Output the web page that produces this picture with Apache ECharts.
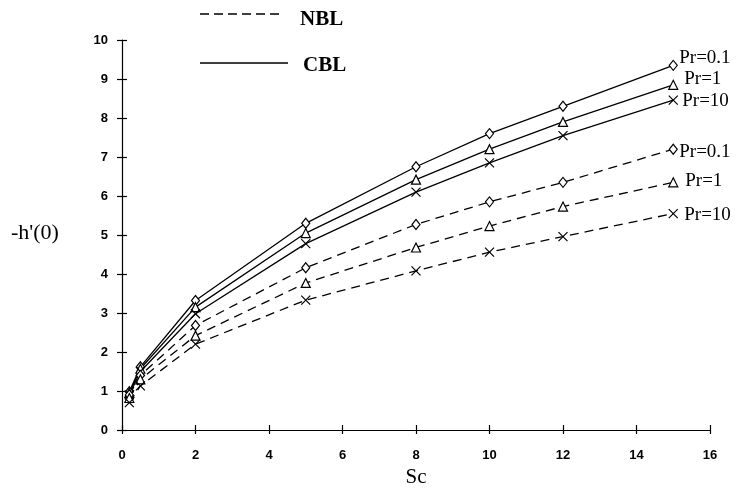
<!DOCTYPE html>
<html>
<head>
<meta charset="utf-8">
<script src="https://cdn.jsdelivr.net/npm/echarts@6/dist/echarts.min.js"></script>
<style>
  html, body { margin: 0; padding: 0; background: #fff; }
  #chart { width: 738px; height: 494px; }
</style>
</head>
<body>
<div id="chart"></div>
<script>
// Sc values (x)
const sc = [0.2, 0.5, 2, 5, 8, 10, 12, 15];

// -h'(0), CBL (solid)
const cblPr01 = [0.98, 1.62, 3.32, 5.3, 6.75, 7.6, 8.3, 9.35];
const cblPr1 = [0.95, 1.57, 3.15, 5.05, 6.42, 7.2, 7.9, 8.85];
const cblPr10 = [0.9, 1.5, 2.98, 4.78, 6.1, 6.85, 7.55, 8.46];

// -h'(0), NBL (dashed)
const nblPr01 = [0.9, 1.4, 2.68, 4.16, 5.27, 5.85, 6.35, 7.2];
const nblPr1 = [0.82, 1.3, 2.42, 3.77, 4.68, 5.23, 5.73, 6.35];
const nblPr10 = [0.7, 1.13, 2.2, 3.33, 4.08, 4.56, 4.96, 5.55];

const prLabels = ['Pr=0.1', 'Pr=1', 'Pr=10'];

const crossPath = 'path://M0,0L10,10M10,0L0,10';
const symbols = ['diamond', 'triangle', crossPath];
const symbolSizes = [[8, 10], 9, 9];

const serif = '"Liberation Serif", "DejaVu Serif", serif';
const sans = '"Liberation Sans", Arial, sans-serif';

const chart = echarts.init(document.getElementById('chart'));

function makeSeries(name, values, idx, dashed, labelOffset) {
    return {
        name: name,
        type: 'line',
        data: values.map((v, i) => [sc[i], v]),
        symbol: symbols[idx],
        symbolSize: symbolSizes[idx],
        showSymbol: true,
        animation: false,
        lineStyle: {
            color: '#000',
            width: 1.3,
            type: dashed ? [9, 6] : 'solid'
        },
        itemStyle: {
            color: '#fff',
            borderColor: '#000',
            borderWidth: 1.2
        },
        endLabel: {
            show: true,
            formatter: prLabels[idx],
            distance: 6,
            offset: labelOffset,
            color: '#000',
            fontFamily: serif,
            fontSize: 19
        },
        emphasis: { disabled: true }
    }
}

const option = {
    backgroundColor: '#fff',
    animation: false,
    grid: {
        left: 122,
        right: 28,
        top: 40,
        bottom: 64
    },
    xAxis: [{
        type: 'value',
        min: 0,
        max: 16,
        interval: 2,
        name: 'Sc',
        nameLocation: 'middle',
        nameGap: 36,
        nameTextStyle: { fontFamily: serif, fontSize: 21, color: '#000' },
        axisLine: { show: true, lineStyle: { color: '#000', width: 1.2 } },
        axisTick: { show: true, length: 4, lineStyle: { color: '#000', width: 1.2 } },
        axisLabel: { margin: 19, color: '#000', fontFamily: sans, fontWeight: 'bold', fontSize: 13 },
        splitLine: { show: false }
    }, {
        type: 'value',
        min: 0,
        max: 16,
        interval: 2,
        position: 'bottom',
        axisLine: { show: false },
        axisTick: { show: true, inside: true, length: 5, lineStyle: { color: '#000', width: 1.2 } },
        axisLabel: { show: false },
        splitLine: { show: false }
    }],
    yAxis: [{
        type: 'value',
        min: 0,
        max: 10,
        interval: 1,
        axisLine: { show: true, lineStyle: { color: '#000', width: 1.2 } },
        axisTick: { show: true, length: 5, lineStyle: { color: '#000', width: 1.2 } },
        axisLabel: { margin: 14, color: '#000', fontFamily: sans, fontWeight: 'bold', fontSize: 13 },
        splitLine: { show: false }
    }, {
        type: 'value',
        min: 0,
        max: 10,
        interval: 1,
        position: 'left',
        axisLine: { show: false },
        axisTick: { show: true, inside: true, length: 5, lineStyle: { color: '#000', width: 1.2 } },
        axisLabel: { show: false },
        splitLine: { show: false }
    }],
    graphic: [
        // y axis name
        { type: 'text', left: 11, top: 222, style: { text: "-h'(0)", font: '22px ' + serif, fill: '#000' } },
        // legend NBL
        { type: 'line', shape: { x1: 200, y1: 14, x2: 284, y2: 14 }, style: { stroke: '#000', lineWidth: 1.3, lineDash: [9, 5] } },
        { type: 'text', left: 300, top: 9, style: { text: 'NBL', font: 'bold 21px ' + serif, fill: '#000' } },
        // legend CBL
        { type: 'line', shape: { x1: 200, y1: 63, x2: 288, y2: 63 }, style: { stroke: '#000', lineWidth: 1.3 } },
        { type: 'text', left: 303, top: 55, style: { text: 'CBL', font: 'bold 21px ' + serif, fill: '#000' } }
    ],
    series: [
        makeSeries('CBL Pr=0.1', cblPr01, 0, false, [0, -7]),
        makeSeries('CBL Pr=1', cblPr1, 1, false, [5, -6]),
        makeSeries('CBL Pr=10', cblPr10, 2, false, [3, 1]),
        makeSeries('NBL Pr=0.1', nblPr01, 0, true, [0, 3]),
        makeSeries('NBL Pr=1', nblPr1, 1, true, [6, -1]),
        makeSeries('NBL Pr=10', nblPr10, 2, true, [5, 1])
    ]
};

chart.setOption(option);
</script>
</body>
</html>
